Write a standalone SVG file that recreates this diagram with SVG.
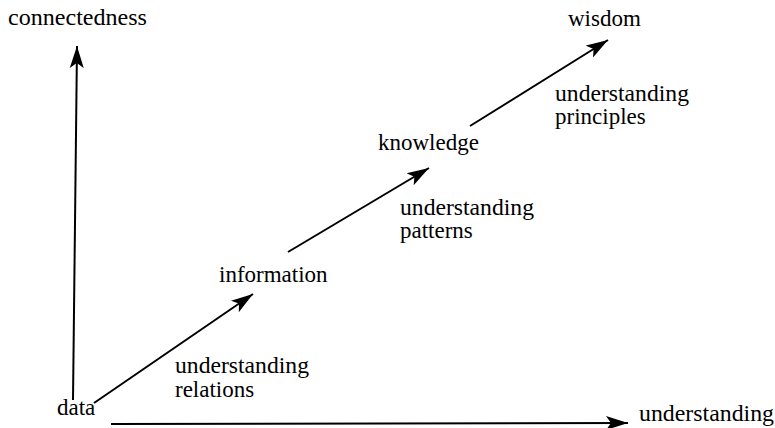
<svg xmlns="http://www.w3.org/2000/svg" width="775" height="428" viewBox="0 0 775 428">
<style>
text{font-family:"Liberation Serif","Times New Roman",serif;font-size:23px;fill:#000}
.c line{stroke:#000;stroke-width:2;fill:none;marker-end:url(#ah)}
</style>
<defs>
<marker id="ah" markerUnits="userSpaceOnUse" markerWidth="24" markerHeight="16" viewBox="0 0 24 16" refX="22" refY="8" orient="auto">
<path d="M0,1 L22,8 L0,15 L5,8 z" fill="#000"/>
</marker>
</defs>
<rect width="775" height="428" fill="#fff"/>
<g class="c" id="connectors">
<line x1="73" y1="400" x2="77" y2="46"/>
<line x1="111" y1="424" x2="628" y2="423"/>
<line x1="94" y1="403" x2="253" y2="294"/>
<line x1="288" y1="252" x2="429" y2="168"/>
<line x1="470" y1="126" x2="608" y2="40"/>
</g>
<g id="connectedness"><text x="8" y="25" textLength="139" lengthAdjust="spacingAndGlyphs">connectedness</text></g>
<g id="understanding-axis"><text x="639" y="421" textLength="135" lengthAdjust="spacingAndGlyphs">understanding</text></g>
<g id="data"><text x="57" y="415">data</text></g>
<g id="information"><text x="219" y="282">information</text></g>
<g id="knowledge"><text x="378" y="150">knowledge</text></g>
<g id="wisdom"><text x="568" y="26">wisdom</text></g>
<g id="relations"><text x="175" y="373" textLength="134" lengthAdjust="spacingAndGlyphs">understanding</text><text x="175" y="397">relations</text></g>
<g id="patterns"><text x="400" y="215" textLength="134" lengthAdjust="spacingAndGlyphs">understanding</text><text x="400" y="238">patterns</text></g>
<g id="principles"><text x="555" y="101" textLength="134" lengthAdjust="spacingAndGlyphs">understanding</text><text x="555" y="124">principles</text></g>
</svg>
